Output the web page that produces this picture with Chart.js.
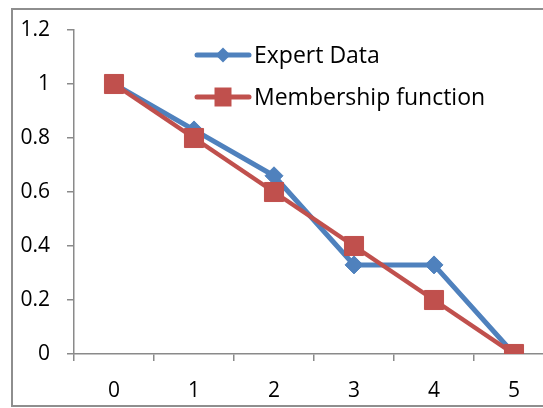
<!DOCTYPE html>
<html>
<head>
<meta charset="utf-8">
<script src="https://cdn.jsdelivr.net/npm/chart.js@4/dist/chart.umd.min.js"></script>
<style>
  html, body { margin: 0; padding: 0; background: #fff; overflow: hidden; }
  #wrap { position: relative; width: 543px; height: 408px; overflow: hidden; }
  #frame {
    position: absolute; left: 11px; top: 8px; width: 700px; height: 395px;
    border: 2px solid #8e8e8e; pointer-events: none;
  }
  canvas { position: absolute; left: 0; top: 0; }
</style>
</head>
<body>
<div id="wrap">
  <canvas id="chart" width="600" height="408"></canvas>
  <div id="frame"></div>
</div>
<script>
// Category labels on the horizontal axis
const categories = ['0', '1', '2', '3', '4', '5'];
// Series values
const expertData = [1, 0.83, 0.66, 0.33, 0.33, 0];
const membershipData = [1, 0.8, 0.6, 0.4, 0.2, 0];
// Vertical axis tick labels
const yTickLabels = ['0', '0.2', '0.4', '0.6', '0.8', '1', '1.2'];

const BLUE = '#4F81BD';
const RED = '#C0504D';
const AXIS = '#8a8a8a';
const FONT = '"Open Sans", Lato, sans-serif';

// Legend drawn inside the plot area: line + marker + label per series
const insideLegend = {
  id: 'insideLegend',
  afterDraw(chart) {
    const ctx = chart.ctx;
    const x0 = 197, x1 = 249, xm = 223, textX = 254;
    const rowY = [55, 97];
    chart.data.datasets.forEach((ds, i) => {
      const y = rowY[i];
      ctx.save();
      ctx.strokeStyle = ds.borderColor;
      ctx.fillStyle = ds.backgroundColor;
      ctx.lineWidth = 5;
      ctx.lineCap = 'round';
      ctx.beginPath();
      ctx.moveTo(x0, y);
      ctx.lineTo(x1, y);
      ctx.stroke();
      ctx.beginPath();
      if (ds.pointStyle === 'rectRot') {
        ctx.moveTo(xm, y - 7.5);
        ctx.lineTo(xm + 7.5, y);
        ctx.lineTo(xm, y + 7.5);
        ctx.lineTo(xm - 7.5, y);
        ctx.closePath();
      } else {
        ctx.rect(xm - 8.5, y - 9.5, 17, 19);
      }
      ctx.fill();
      ctx.fillStyle = '#000';
      ctx.font = '23px ' + FONT;
      ctx.textAlign = 'left';
      ctx.textBaseline = 'middle';
      ctx.fillText(ds.label, textX, y + 1);
      ctx.restore();
    });
  }
};

new Chart(document.getElementById('chart'), {
  type: 'line',
  data: {
    labels: categories,
    datasets: [
      {
        label: 'Expert Data',
        data: expertData,
        borderColor: BLUE,
        backgroundColor: BLUE,
        borderWidth: 5,
        pointStyle: 'rectRot',
        pointRadius: 9,
        pointBorderWidth: 1,
        tension: 0,
        order: 2
      },
      {
        label: 'Membership function',
        data: membershipData,
        borderColor: RED,
        backgroundColor: RED,
        borderWidth: 4.5,
        pointStyle: 'rect',
        pointRadius: 13.5,
        pointBorderWidth: 1,
        tension: 0,
        order: 1
      }
    ]
  },
  options: {
    responsive: false,
    animation: false,
    devicePixelRatio: 1,
    events: [],
    layout: { padding: { left: 0, right: 46, top: 30, bottom: 0 } },
    plugins: {
      legend: { display: false },
      tooltip: { enabled: false }
    },
    scales: {
      x: {
        type: 'category',
        offset: true,
        afterFit(scale) { scale.height = 54; },
        grid: {
          offset: true,
          drawOnChartArea: false,
          drawTicks: true,
          tickLength: 7,
          color: AXIS,
          lineWidth: 1.5
        },
        border: { color: AXIS, width: 1.5 },
        ticks: {
          color: '#000',
          font: { family: FONT, size: 21 },
          padding: 17,
          maxRotation: 0
        }
      },
      y: {
        min: 0,
        max: 1.2,
        afterFit(scale) { scale.width = 74; },
        afterBuildTicks(scale) {
          scale.ticks = yTickLabels.map(t => ({ value: parseFloat(t) }));
        },
        grid: {
          drawOnChartArea: false,
          drawTicks: true,
          tickLength: 7,
          color: AXIS,
          lineWidth: 1.5
        },
        border: { color: AXIS, width: 1.5 },
        ticks: {
          color: '#000',
          font: { family: FONT, size: 21 },
          padding: 17,
          callback(value, index) { return yTickLabels[index]; }
        }
      }
    }
  },
  plugins: [insideLegend]
});
</script>
</body>
</html>
